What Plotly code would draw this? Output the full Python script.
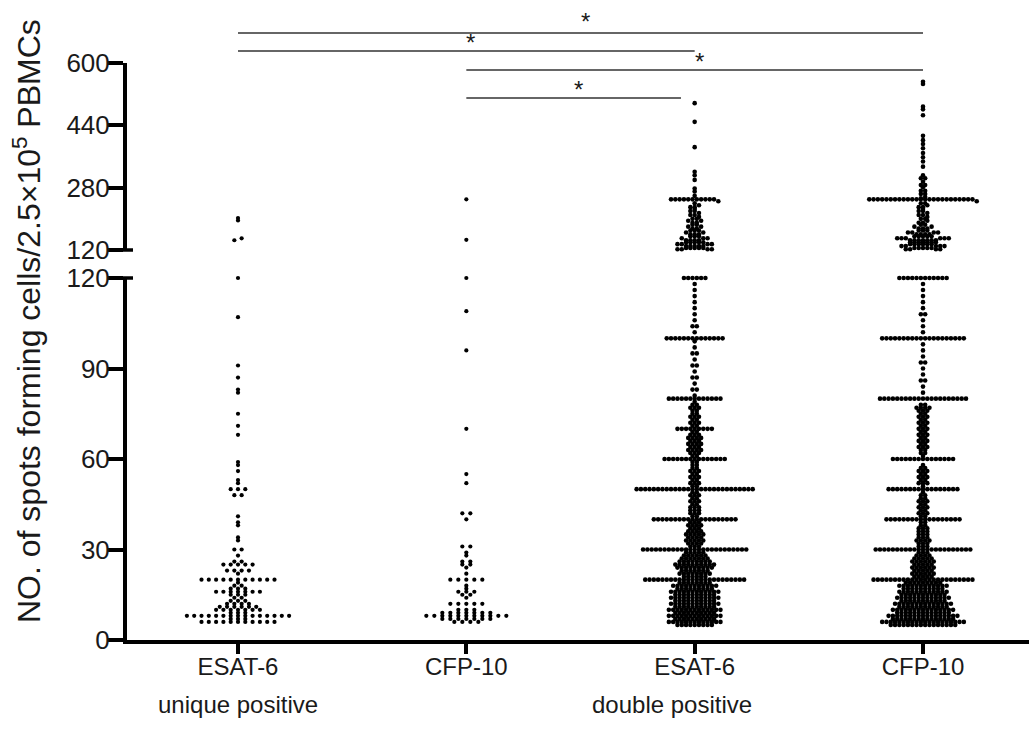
import math
from collections import Counter
import plotly.graph_objects as go

# ---------------- data ----------------
categories = ["ESAT-6", "CFP-10", "ESAT-6", "CFP-10"]
group_labels = ["unique positive", "double positive"]
group_label_pos = [0.0, 1.9]

lower_ticks = [0, 30, 60, 90, 120]
upper_ticks = [120, 280, 440, 600]
break_value = 120
upper_max = 600

# ESAT-6, unique positive: value / number of subjects
esat_unique_values = [202, 196, 150, 145, 120, 107, 91, 87, 83, 82, 75, 71, 68, 59, 58, 56, 53, 52, 50, 48,
                      41, 39, 38, 34, 33, 30, 28, 26, 25, 23, 22, 20, 19, 18, 17, 16, 15, 14, 13, 12,
                      11, 10, 9, 8, 7, 6]
esat_unique_counts = [1, 1, 1, 1, 1, 1, 1, 1, 1, 1, 1, 1, 1, 1, 1, 1, 1, 1, 3, 2,
                      1, 1, 1, 1, 1, 2, 1, 2, 5, 4, 1, 11, 1, 2, 3, 7, 3, 2, 3, 4,
                      6, 7, 3, 15, 3, 11]

# CFP-10, unique positive
cfp_unique_values = [250, 146, 120, 109, 96, 70, 55, 52, 42, 40, 31, 29, 28, 26, 25, 24, 22, 20, 18, 17,
                     16, 15, 14, 12, 10, 9, 8, 7, 6]
cfp_unique_counts = [1, 1, 1, 1, 1, 1, 1, 1, 2, 1, 2, 1, 1, 2, 2, 1, 1, 5, 1, 1,
                     3, 2, 1, 5, 3, 7, 11, 7, 4]

# ESAT-6, double positive
esat_double_values = [497, 449, 384, 321, 312, 300, 278, 270, 259, 250,
                      245, 240, 235, 230, 225, 220, 215, 210, 205, 200, 195, 190, 185, 180, 175, 170,
                      165, 160, 155, 150, 145, 140, 135, 130, 125, 122,
                      120, 118, 116, 114, 112, 110, 108, 106, 104, 102, 100,
                      99, 97, 95, 93, 91, 89, 87, 85, 83, 81, 80,
                      79, 78, 77, 76, 75, 74, 73, 72, 71, 70,
                      69, 68, 67, 66, 65, 64, 63, 62, 61, 60,
                      59, 58, 57, 56, 55, 54, 53, 52, 51, 50,
                      49, 48, 47, 46, 45, 44, 43, 42, 41, 40,
                      39, 38, 37, 36, 35, 34, 33, 32, 31, 30,
                      29, 28, 27, 26, 25, 24, 23, 22, 21, 20,
                      19, 18, 17, 16, 15, 14, 13, 12, 11, 10, 9, 8, 7, 6, 5]
esat_double_counts = [1, 1, 1, 1, 1, 1, 1, 1, 1, 11,
                      1, 1, 1, 2, 1, 2, 1, 2, 1, 2, 2, 2, 2, 2, 2, 3,
                      2, 3, 3, 3, 4, 5, 4, 5, 5, 4,
                      6, 1, 1, 1, 1, 1, 1, 1, 2, 1, 14,
                      1, 1, 2, 1, 2, 1, 2, 1, 2, 1, 13,
                      1, 2, 3, 2, 2, 3, 2, 3, 2, 9,
                      2, 3, 4, 3, 4, 3, 4, 3, 2, 15,
                      2, 2, 2, 3, 2, 3, 2, 3, 2, 28,
                      2, 3, 2, 3, 2, 3, 3, 3, 2, 20,
                      3, 4, 3, 4, 5, 4, 5, 4, 3, 25,
                      5, 6, 7, 8, 10, 9, 7, 8, 6, 24,
                      8, 11, 9, 12, 10, 12, 10, 12, 10, 13, 10, 13, 10, 13, 9]

# CFP-10, double positive
cfp_double_values = [552, 546, 488, 481, 466, 413, 402, 392, 381, 369, 358, 347, 334, 312, 304, 295,
                     287, 281, 272, 264, 256, 253, 250,
                     245, 240, 235, 230, 225, 220, 215, 210, 205, 200, 195, 190, 185, 180, 175, 170,
                     165, 160, 155, 150, 145, 140, 135, 130, 125, 122,
                     120, 118, 116, 114, 112, 110, 108, 106, 104, 102, 100,
                     98, 96, 94, 92, 90, 88, 86, 84, 82, 80,
                     78, 77, 76, 75, 74, 73, 72, 71, 70,
                     69, 68, 67, 66, 65, 64, 63, 62, 61, 60,
                     58, 57, 56, 55, 54, 53, 52, 51, 50,
                     49, 48, 47, 46, 45, 44, 43, 42, 41, 40,
                     39, 38, 37, 36, 35, 34, 33, 32, 31, 30,
                     29, 28, 27, 26, 25, 24, 23, 22, 21, 20,
                     19, 18, 17, 16, 15, 14, 13, 12, 11, 10, 9, 8, 7, 6, 5]
cfp_double_counts = [1, 1, 1, 1, 1, 1, 1, 1, 1, 1, 1, 1, 1, 1, 2, 1,
                     2, 1, 2, 2, 1, 1, 25,
                     1, 2, 1, 2, 1, 2, 1, 2, 1, 2, 1, 2, 2, 2, 3, 3,
                     4, 4, 5, 6, 7, 7, 6, 5, 5, 4,
                     12, 1, 1, 1, 1, 1, 2, 1, 1, 1, 20,
                     1, 1, 1, 2, 1, 1, 2, 1, 1, 21,
                     2, 4, 3, 2, 3, 2, 3, 2, 3,
                     2, 3, 2, 3, 2, 3, 2, 2, 1, 15,
                     1, 2, 3, 2, 3, 2, 3, 1, 17,
                     1, 2, 2, 3, 2, 3, 2, 3, 2, 18,
                     2, 2, 3, 3, 3, 3, 4, 3, 3, 23,
                     3, 4, 5, 6, 5, 6, 5, 6, 5, 24,
                     9, 12, 10, 12, 11, 13, 11, 14, 12, 15, 13, 17, 15, 20, 16]

groups = [
    (esat_unique_values, esat_unique_counts),
    (cfp_unique_values, cfp_unique_counts),
    (esat_double_values, esat_double_counts),
    (cfp_double_values, cfp_double_counts),
]

# significance comparisons (group index from, to) and their labels
sig_from = [0, 0, 1, 1]
sig_to = [3, 2, 3, 2]
sig_text = ["*", "*", "*", "*"]

# ---------------- layout geometry / styles ----------------
W, H = 1029, 737
ML, MR, MT, MB = 127, 0, 63, 97
plot_w = W - ML - MR
plot_h = H - MT - MB
lower_top_px = 278      # page y of the top of the lower segment
upper_bottom_px = 250   # page y of the bottom of the upper segment
axis_px = H - MB        # page y of the x axis

dom_low = (axis_px - lower_top_px) / plot_h
dom_up = (axis_px - upper_bottom_px) / plot_h
low_px_per_unit = (axis_px - lower_top_px) / break_value
up_px_per_unit = (upper_bottom_px - MT) / (upper_max - break_value)

x_first_px, x_last_px = 238, 923
px_per_cat = (x_last_px - x_first_px) / 3
x_lo = -(x_first_px - ML) / px_per_cat
x_hi = x_lo + plot_w / px_per_cat

row_spacing_px = [7.3, 8.0, 4.3, 4.3]
dot_sizes = [4.2, 4.2, 4.6, 4.6]
row_height_px = 3.0
FONT = "Liberation Sans, Arial, Helvetica, sans-serif"


def height_px(v):
    if v <= break_value:
        return v * low_px_per_unit
    return (axis_px - upper_bottom_px) + (v - break_value) * up_px_per_unit


def dot_layout(values, counts, spacing):
    pts = []
    for v, c in zip(values, counts):
        pts += [v] * c
    rows = {}
    for v in pts:
        rows.setdefault(math.floor(height_px(v) / row_height_px + 1e-9), []).append(v)
    xs, ys = [], []
    for _, vs in sorted(rows.items()):
        freq = Counter(vs)
        vs = sorted(vs, key=lambda v: (-freq[v], v))
        k = len(vs)
        offs = sorted([(i - (k - 1) / 2) * spacing for i in range(k)], key=lambda o: (abs(o), o))
        for v, o in zip(vs, offs):
            xs.append(o / px_per_cat)
            ys.append(v)
    return xs, ys


fig = go.Figure()
for gi, (vals, cnts) in enumerate(groups):
    offs, ys = dot_layout(vals, cnts, row_spacing_px[gi])
    lx = [gi + o for o, y in zip(offs, ys) if y <= break_value]
    ly = [y for y in ys if y <= break_value]
    ux = [gi + o for o, y in zip(offs, ys) if y > break_value]
    uy = [y for y in ys if y > break_value]
    marker = dict(color="black", size=dot_sizes[gi], line=dict(width=0))
    fig.add_trace(go.Scatter(x=lx, y=ly, mode="markers", marker=marker, xaxis="x", yaxis="y",
                             cliponaxis=False, showlegend=False, hoverinfo="y"))
    fig.add_trace(go.Scatter(x=ux, y=uy, mode="markers", marker=marker, xaxis="x", yaxis="y2",
                             cliponaxis=False, showlegend=False, hoverinfo="y"))

axis_common = dict(showline=True, linecolor="black", linewidth=4, ticks="outside",
                   tickcolor="black", tickwidth=3.5, showgrid=False, zeroline=False,
                   ticklabelstandoff=-7,
                   tickfont=dict(family=FONT, size=26, color="#1a1a1a"))

fig.update_layout(
    width=W, height=H,
    margin=dict(l=ML, r=MR, t=MT, b=MB, pad=0),
    paper_bgcolor="white", plot_bgcolor="white",
    xaxis=dict(range=[x_lo, x_hi], tickmode="array", tickvals=[0, 1, 2, 3], ticktext=categories,
               anchor="y", showline=True, linecolor="black", linewidth=4, ticks="outside",
               ticklen=10, tickwidth=3.5, tickcolor="black", showgrid=False, zeroline=False,
               ticklabelstandoff=-8,
               tickfont=dict(family=FONT, size=24, color="#1a1a1a")),
    yaxis=dict(domain=[0, dom_low], range=[0, break_value], tickmode="array", tickvals=lower_ticks,
               ticklen=15, anchor="x", **axis_common),
    yaxis2=dict(domain=[dom_up, 1], range=[break_value, upper_max], tickmode="array",
                tickvals=upper_ticks, ticklen=15, anchor="x", **axis_common),
)

# break caps on the y axis
cap_x0 = (118 - ML) / plot_w
cap_x1 = (133 - ML) / plot_w
for yp in (dom_low, dom_up):
    fig.add_shape(type="line", xref="paper", yref="paper", x0=cap_x0, x1=cap_x1, y0=yp, y1=yp,
                  line=dict(color="black", width=3.5))

# significance bars
bar_px = [33, 51, 70, 98]
star_gap_px = [4, 1, 1, 1]
bar_end_trim = [0, 0, 0, 0.06]
for a, b, t, py, gap, trim in zip(sig_from, sig_to, sig_text, bar_px, star_gap_px, bar_end_trim):
    yp = (axis_px - py) / plot_h
    fig.add_shape(type="line", xref="x", yref="paper", x0=a, x1=b - trim, y0=yp, y1=yp,
                  line=dict(color="#333333", width=1.6))
    fig.add_annotation(x=(a + b - trim) / 2 + 0.02, xref="x", y=yp, yref="paper", text=t,
                       showarrow=False, yanchor="bottom", yshift=-8 + gap,
                       font=dict(family=FONT, size=24, color="#1a1a1a"))

# group labels
for lab, gx in zip(group_labels, group_label_pos):
    fig.add_annotation(x=gx, xref="x", y=(axis_px - 704) / plot_h, yref="paper", text=lab,
                       showarrow=False, yanchor="middle", xanchor="center",
                       font=dict(family=FONT, size=24, color="#1a1a1a"))

# y axis title spanning both segments
fig.add_annotation(x=(27 - ML) / plot_w, xref="paper", y=(axis_px - 321) / plot_h, yref="paper",
                   text="NO. of spots forming cells/2.5\u00d710<sup>5</sup> PBMCs", textangle=-90,
                   showarrow=False, xanchor="center", yanchor="middle",
                   font=dict(family=FONT, size=32, color="#1a1a1a"))

fig.write_html("out.html", config={"displayModeBar": False},
               post_script="document.body.style.margin='0px';")
